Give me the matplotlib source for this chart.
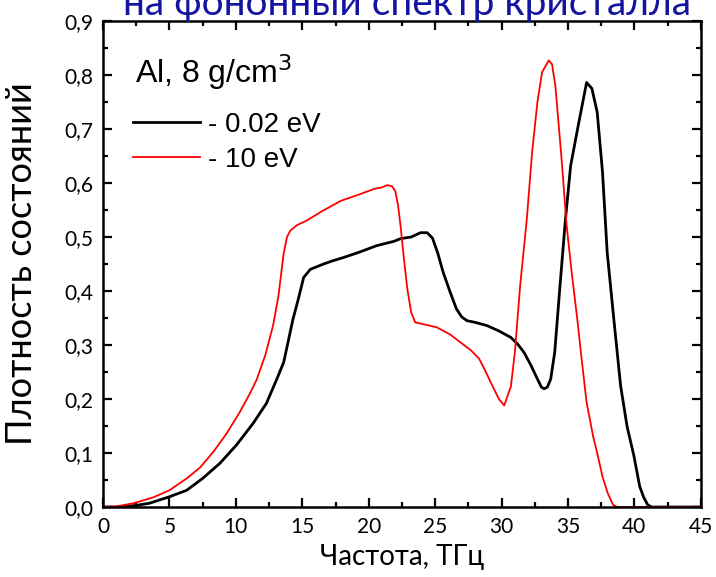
import matplotlib
matplotlib.use("Agg")
from matplotlib import pyplot as plt
from matplotlib.ticker import MultipleLocator
import numpy as np

# density of phonon states, Al 8 g/cm3
freq_cold = [0, 1.3, 2.5, 3.5, 5.0, 6.3, 7.5, 8.8, 10.05, 11.3, 12.3, 13.05, 13.6, 14.3,
             14.7, 15.1, 15.6, 16.6, 17.3, 18.1, 19.3, 20.6, 21.9, 22.4, 23.2, 23.9, 24.4,
             24.8, 25.2, 25.6, 26.1, 26.6, 27.0, 27.4, 28.0, 28.9, 29.8, 30.7, 31.2, 31.7,
             32.2, 32.7, 33.0, 33.2, 33.45, 33.7, 34.0, 34.4, 34.8, 35.2, 35.8, 36.4, 36.8,
             37.2, 37.6, 37.95, 38.45, 38.96, 39.45, 39.96, 40.4, 40.7, 41.0, 41.3, 42.0, 45.0]
dos_cold = [0, 0, 0.003, 0.007, 0.019, 0.031, 0.053, 0.081, 0.115, 0.155, 0.192, 0.235, 0.268,
            0.348, 0.385, 0.425, 0.44, 0.45, 0.456, 0.462, 0.472, 0.484, 0.492, 0.497, 0.5,
            0.508, 0.508, 0.498, 0.47, 0.435, 0.40, 0.367, 0.352, 0.345, 0.342, 0.336, 0.326,
            0.314, 0.302, 0.286, 0.263, 0.237, 0.222, 0.219, 0.222, 0.237, 0.286, 0.41, 0.53,
            0.632, 0.71, 0.786, 0.775, 0.731, 0.62, 0.472, 0.348, 0.225, 0.149, 0.095, 0.038,
            0.018, 0.004, 0.0, 0, 0]

freq_hot = [0, 1.0, 2.3, 3.8, 5.0, 6.3, 7.3, 8.3, 9.3, 10.3, 11.05, 11.55, 12.2, 12.8, 13.2,
            13.6, 13.85, 14.1, 14.6, 15.3, 16.5, 17.9, 19.2, 20.4, 21.0, 21.4, 21.75, 22.0,
            22.2, 22.4, 22.65, 22.9, 23.2, 23.5, 24.2, 25.1, 26.1, 26.9, 27.7, 28.3, 28.7,
            29.3, 29.8, 30.2, 30.7, 31.0, 31.4, 31.9, 32.3, 32.7, 33.05, 33.55, 33.8, 34.05,
            34.5, 34.9, 35.3, 35.7, 36.0, 36.4, 36.9, 37.2, 37.6, 38.0, 38.4, 38.7, 45.0]
dos_hot = [0, 0.001, 0.007, 0.018, 0.031, 0.053, 0.073, 0.102, 0.136, 0.176, 0.21, 0.235,
           0.28, 0.336, 0.39, 0.47, 0.50, 0.512, 0.522, 0.53, 0.548, 0.567, 0.578, 0.589,
           0.592, 0.596, 0.594, 0.585, 0.56, 0.52, 0.46, 0.405, 0.36, 0.342, 0.338, 0.333,
           0.32, 0.305, 0.29, 0.275, 0.256, 0.225, 0.20, 0.188, 0.223, 0.286, 0.41, 0.533,
           0.657, 0.75, 0.805, 0.827, 0.82, 0.78, 0.65, 0.521, 0.43, 0.348, 0.28, 0.194,
           0.13, 0.10, 0.056, 0.025, 0.004, 0, 0]

xticks = [0, 5, 10, 15, 20, 25, 30, 35, 40, 45]
yticks = [0.0, 0.1, 0.2, 0.3, 0.4, 0.5, 0.6, 0.7, 0.8, 0.9]
ytick_labels = ['0,0', '0,1', '0,2', '0,3', '0,4', '0,5', '0,6', '0,7', '0,8', '0,9']

label_font = ['Lato', 'Open Sans', 'DejaVu Sans']
legend_font = ['Liberation Sans', 'DejaVu Sans']

W, H = 716, 577
fig = plt.figure(figsize=(W / 100, H / 100), dpi=100)
ax = fig.add_axes([0.1439, 0.1213, 0.8349, 0.8423])

ax.plot(freq_cold, dos_cold, color='k', lw=2.0, label='- 0.02 eV')
ax.plot(freq_hot, dos_hot, color='#ff0000', lw=1.3, label='- 10 eV')

ax.set_xlim(0, 45)
ax.set_ylim(0, 0.9)
ax.set_xticks(xticks)
ax.set_yticks(yticks)
ax.set_yticklabels(ytick_labels)
ax.xaxis.set_minor_locator(MultipleLocator(2.5))
ax.yaxis.set_minor_locator(MultipleLocator(0.05))
ax.tick_params(which='both', direction='in', top=True, right=True, width=1.6)
ax.tick_params(which='major', length=6.5, labelsize=15)
ax.tick_params(axis='x', which='major', pad=7)
ax.tick_params(axis='y', which='major', pad=7)
ax.tick_params(which='minor', length=3.6)
for lab in ax.get_xticklabels() + ax.get_yticklabels():
    lab.set_family(label_font)
for s in ax.spines.values():
    s.set_linewidth(1.8)

ax.set_xlabel('Частота, ТГц', fontsize=20, family=label_font, labelpad=5)
ax.set_ylabel('Плотность состояний', fontsize=26, family=label_font)
ax.yaxis.set_label_coords(-0.108, 0.5)

# legend header and entries
fig.text(135 / W, 1 - 83 / H, 'Al, 8 g/cm$^3$', fontsize=23, family=legend_font,
         ha='left', va='baseline')
ax.legend(loc='upper left', bbox_to_anchor=(133 / W, 1 - 112 / H),
          bbox_transform=fig.transFigure, frameon=False, borderpad=0,
          borderaxespad=0, handlelength=2.4, handletextpad=0.3,
          labelspacing=0.32, prop={'family': legend_font, 'size': 20})

# title of the slide, cut by the top edge
fig.text(0.569, 1 - 15 / H, 'на фононный спектр кристалла', color='#1414a0',
         fontsize=28, family=label_font, ha='center', va='baseline')

fig.savefig('out.png', dpi=100)
